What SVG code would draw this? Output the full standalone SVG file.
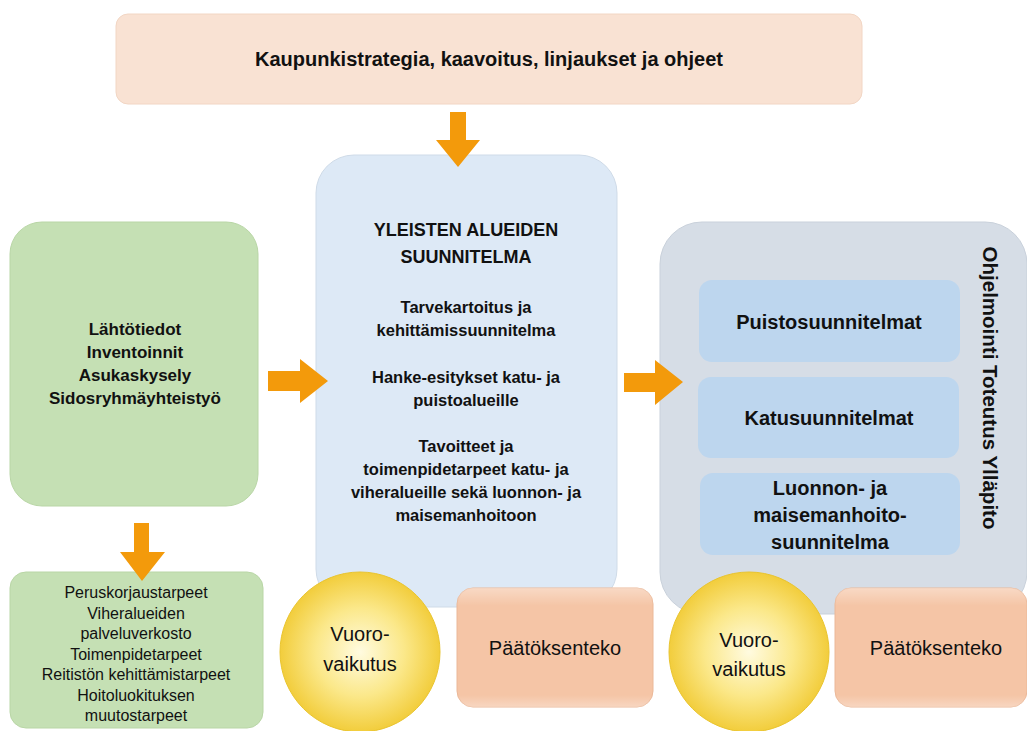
<svg xmlns="http://www.w3.org/2000/svg" width="1027" height="731" viewBox="0 0 1027 731">
<defs>
<style>
text{font-family:"Liberation Sans",Arial,sans-serif;fill:#111;text-anchor:middle}
.b{font-weight:bold}
.arrow{fill:#f39a0b}
</style>
<radialGradient id="gold" cx="50%" cy="50%" r="50%">
<stop offset="0" stop-color="#fffbe0"/>
<stop offset="0.55" stop-color="#fbe88a"/>
<stop offset="1" stop-color="#f2cd3c"/>
</radialGradient>
<linearGradient id="gshade" x1="0" y1="0" x2="0" y2="1">
<stop offset="0" stop-color="#ffffff" stop-opacity="0.35"/>
<stop offset="0.15" stop-color="#ffffff" stop-opacity="0"/>
<stop offset="0.9" stop-color="#ffffff" stop-opacity="0"/>
<stop offset="1" stop-color="#ffffff" stop-opacity="0.3"/>
</linearGradient>
</defs>
<rect width="1027" height="731" fill="#ffffff"/>

<g id="strategia">
<rect x="116" y="14" width="746" height="90" rx="12" fill="#f9e2d3" stroke="#f2d6c4" stroke-width="1"/>
<text class="b" x="489" y="66" font-size="20">Kaupunkistrategia, kaavoitus, linjaukset ja ohjeet</text>
</g>

<g id="lahtotiedot">
<rect x="10" y="222" width="248" height="284" rx="32" fill="#c5e0b4" stroke="#b9d6a6" stroke-width="1"/>
<text class="b" font-size="17"><tspan x="135" y="335">Lähtötiedot</tspan><tspan x="135" y="358">Inventoinnit</tspan><tspan x="135" y="381">Asukaskysely</tspan><tspan x="135" y="404">Sidosryhmäyhteistyö</tspan></text>
</g>

<g id="tarpeet">
<rect x="10" y="572" width="253" height="156" rx="16" fill="#c5e0b4" stroke="#b9d6a6" stroke-width="1"/>
<text font-size="16"><tspan x="136" y="598">Peruskorjaustarpeet</tspan><tspan x="136" y="618.5">Viheralueiden</tspan><tspan x="136" y="639">palveluverkosto</tspan><tspan x="136" y="659.5">Toimenpidetarpeet</tspan><tspan x="136" y="680">Reitistön kehittämistarpeet</tspan><tspan x="136" y="700.5">Hoitoluokituksen</tspan><tspan x="136" y="721">muutostarpeet</tspan></text>
</g>

<g id="yleisten">
<rect x="316" y="155" width="301" height="452" rx="38" fill="#dde9f6" stroke="#cfdbe8" stroke-width="1"/>
<text class="b" font-size="18"><tspan x="466" y="236">YLEISTEN ALUEIDEN</tspan><tspan x="466" y="263">SUUNNITELMA</tspan></text>
<text class="b" font-size="16.5"><tspan x="466" y="313">Tarvekartoitus ja</tspan><tspan x="466" y="336">kehittämissuunnitelma</tspan><tspan x="466" y="383">Hanke-esitykset katu- ja</tspan><tspan x="466" y="406">puistoalueille</tspan><tspan x="466" y="452">Tavoitteet ja</tspan><tspan x="466" y="475">toimenpidetarpeet katu- ja</tspan><tspan x="466" y="498">viheralueille sekä luonnon- ja</tspan><tspan x="466" y="521">maisemanhoitoon</tspan></text>
</g>

<g id="ohjelmointi">
<rect x="660" y="222" width="367" height="392" rx="42" fill="#d6dde6" stroke="#c9d1db" stroke-width="1"/>
<text class="b" font-size="20.5" transform="translate(990 388) rotate(90)" x="0" y="7">Ohjelmointi Toteutus Ylläpito</text>
</g>

<g id="puisto">
<rect x="699" y="280" width="261" height="82" rx="13" fill="#bdd6ee"/>
<text class="b" font-size="20" x="829" y="329">Puistosuunnitelmat</text>
</g>
<g id="katu">
<rect x="698" y="377" width="261" height="81" rx="13" fill="#bdd6ee"/>
<text class="b" font-size="20" x="829" y="425">Katusuunnitelmat</text>
</g>
<g id="luonto">
<rect x="700" y="473" width="260" height="82" rx="13" fill="#bdd6ee"/>
<text class="b" font-size="20"><tspan x="830" y="495">Luonnon- ja</tspan><tspan x="830" y="522">maisemanhoito-</tspan><tspan x="830" y="549">suunnitelma</tspan></text>
</g>

<g id="vuorovaikutus1">
<circle cx="360" cy="652" r="80" fill="url(#gold)" stroke="#e9c42e" stroke-width="1"/>
<text font-size="20"><tspan x="360" y="641">Vuoro-</tspan><tspan x="360" y="671">vaikutus</tspan></text>
</g>
<g id="paatos1">
<rect x="457" y="588" width="196" height="119" rx="16" fill="#f5c5a6" stroke="#ebb898" stroke-width="1"/>
<rect x="457" y="588" width="196" height="119" rx="16" fill="url(#gshade)"/>
<text font-size="20" x="555" y="655">Päätöksenteko</text>
</g>
<g id="vuorovaikutus2">
<circle cx="749" cy="652" r="80" fill="url(#gold)" stroke="#e9c42e" stroke-width="1"/>
<text font-size="20"><tspan x="749" y="647">Vuoro-</tspan><tspan x="749" y="676">vaikutus</tspan></text>
</g>
<g id="paatos2">
<rect x="835" y="588" width="192" height="119" rx="16" fill="#f5c5a6" stroke="#ebb898" stroke-width="1"/>
<rect x="835" y="588" width="192" height="119" rx="16" fill="url(#gshade)"/>
<text font-size="20" x="936" y="655">Päätöksenteko</text>
</g>

<g id="connectors">
<polygon class="arrow" points="450,112 466,112 466,140 480,140 458,167 436,140 450,140"/>
<polygon class="arrow" points="268,371 300,371 300,359 328,381 300,403 300,391 268,391"/>
<polygon class="arrow" points="624,373 655,373 655,360 683,382 655,405 655,392 624,392"/>
<polygon class="arrow" points="134,523 149,523 149,552 165,552 142,581 120,552 134,552"/>
</g>
</svg>
